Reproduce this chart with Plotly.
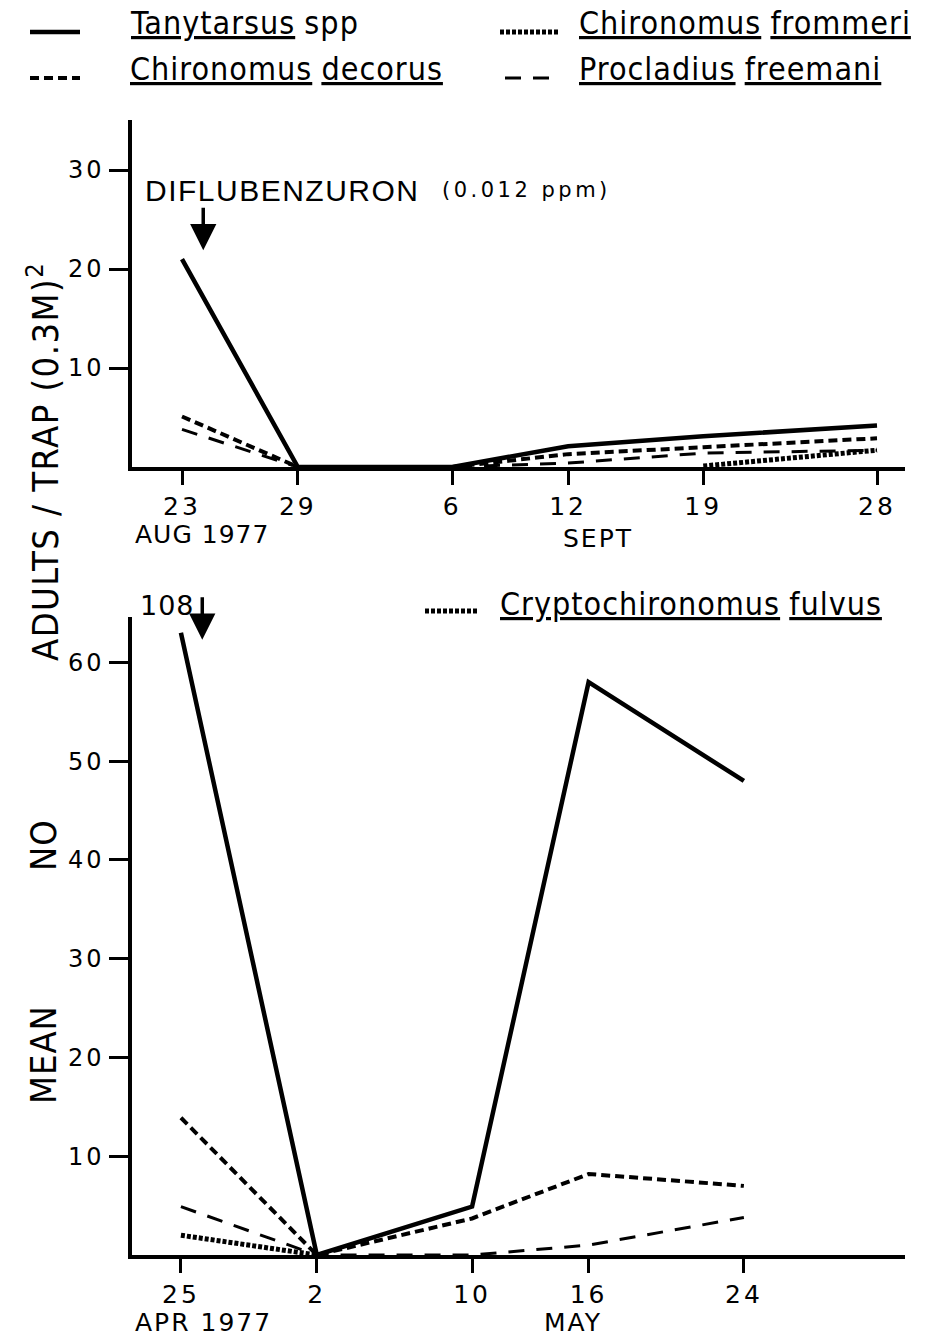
import plotly.graph_objects as go

# ---------------- data ----------------
# Top panel: Aug-Sept 1977, x = days after 23 Aug
aug_days = [0, 6, 14, 20, 27, 36]
aug_ticktext = ["23", "29", "6", "12", "19", "28"]
tany_aug = [21.0, 0, 0, 2.1, 3.1, 4.2]
decorus_aug = [5.1, 0, 0, 1.3, 2.0, 2.9]
procl_aug = [3.8, 0, 0, 0.4, 1.4, 1.7]
frommeri_days = [27, 36]
frommeri_aug = [0.1, 1.7]

# Bottom panel: Apr-May 1977, x = days after 25 Apr
apr_days = [0, 7, 15, 21, 29]
apr_ticktext = ["25", "2", "10", "16", "24"]
tany_apr = [63.0, 0, 4.9, 58.0, 48.0]   # first value off-scale (108)
decorus_apr = [13.9, 0, 3.7, 8.2, 7.0]
procl_apr = [4.9, 0, 0, 1.0, 3.8]
crypto_days = [0, 7]
crypto_apr = [2.0, 0]

top_yticks = [10, 20, 30]
bot_yticks = [10, 20, 30, 40, 50, 60]

NARROW = "DejaVu Sans Condensed, Liberation Sans Narrow, Arial Narrow, sans-serif"
TICKF = "DejaVu Sans, Verdana, sans-serif"

styles = {
    "tany": dict(color="black", width=4.5, dash="solid"),
    "decorus": dict(color="black", width=4, dash="9px,5px"),
    "procl": dict(color="black", width=3, dash="16px,12px"),
    "frommeri": dict(color="black", width=5, dash="4px,2px"),
    "crypto": dict(color="black", width=5, dash="4px,2px"),
}

fig = go.Figure()

def add(x, y, key, xa, ya):
    fig.add_trace(go.Scatter(x=x, y=y, mode="lines", line=styles[key],
                             xaxis=xa, yaxis=ya, showlegend=False, hoverinfo="skip"))

add(aug_days, procl_aug, "procl", "x", "y")
add(aug_days, decorus_aug, "decorus", "x", "y")
add(frommeri_days, frommeri_aug, "frommeri", "x", "y")
add(aug_days, tany_aug, "tany", "x", "y")

add(apr_days, procl_apr, "procl", "x2", "y2")
add(apr_days, decorus_apr, "decorus", "x2", "y2")
add(crypto_days, crypto_apr, "crypto", "x2", "y2")
add(apr_days, tany_apr, "tany", "x2", "y2")

W, H = 925, 1336
def px(x):
    return x / W
def py(y):
    return 1 - y / H

def sp(t, ls):
    return '<span style="letter-spacing:%spx">%s</span>' % (ls, t)

axis_common = dict(showline=True, linecolor="black", linewidth=3.5, ticks="outside",
                   tickwidth=3, tickcolor="black", showgrid=False, zeroline=False)
xfont = dict(family=TICKF, size=25, color="black")
yfont = dict(family=TICKF, size=24, color="black")

fig.update_layout(
    width=W, height=H, margin=dict(l=0, r=0, t=0, b=0),
    paper_bgcolor="white", plot_bgcolor="white",
    xaxis=dict(domain=[px(132), px(905)], range=[-2.59, 37.45], anchor="y",
               tickmode="array", tickvals=aug_days, ticktext=[sp(t, 3) for t in aug_ticktext],
               ticklen=14, tickfont=xfont, **axis_common),
    yaxis=dict(domain=[py(467), py(120)], range=[0, 35.05], anchor="x",
               tickmode="array", tickvals=top_yticks, ticktext=[sp(str(v), 3) for v in top_yticks],
               ticklen=19, tickfont=yfont, **axis_common),
    xaxis2=dict(domain=[px(132), px(905)], range=[-2.52, 37.3], anchor="y2",
                tickmode="array", tickvals=apr_days, ticktext=[sp(t, 3) for t in apr_ticktext],
                ticklen=14, tickfont=xfont, **axis_common),
    yaxis2=dict(domain=[py(1255), py(617)], range=[0, 64.6], anchor="x2",
                tickmode="array", tickvals=bot_yticks, ticktext=[sp(str(v), 3) for v in bot_yticks],
                ticklen=19, tickfont=yfont, **axis_common),
)

U = ('<span style="text-decoration:underline;text-decoration-thickness:3px;'
     'text-underline-offset:5px;letter-spacing:1px">%s</span>')
P = '<span style="letter-spacing:1px">%s</span>'

def ann(text, x, y, size=30, fam=NARROW, xanchor="left", **kw):
    fig.add_annotation(text=text, x=px(x), y=py(y), xref="paper", yref="paper",
                       showarrow=False, xanchor=xanchor, yanchor="middle",
                       font=dict(family=fam, size=size, color="black"), **kw)

def swatch(x0, x1, y, key):
    st = styles[key]
    fig.add_shape(type="line", xref="paper", yref="paper", x0=px(x0), x1=px(x1),
                  y0=py(y), y1=py(y), line=dict(color="black", width=st["width"], dash=st["dash"]))

LEG = 32
# legend
swatch(30, 80, 32, "tany")
ann(U % "Tanytarsus" + " " + P % "spp", 128, 23, size=LEG)
swatch(500, 560, 32, "frommeri")
ann(U % "Chironomus" + " " + U % "frommeri", 577, 23, size=LEG)
swatch(30, 80, 78, "decorus")
ann(U % "Chironomus" + " " + U % "decorus", 128, 69, size=LEG)
swatch(505, 560, 78, "procl")
ann(U % "Procladius" + " " + U % "freemani", 577, 69, size=LEG)
swatch(425, 478, 611, "crypto")
ann(U % "Cryptochironomus" + " " + U % "fulvus", 498, 604, size=LEG)

# in-chart text
ann(sp("DIFLUBENZURON", 1.5), 143, 190, size=30, fam="Liberation Sans, Arial, sans-serif")
ann(sp("(0.012 ppm)", 3.5), 440, 190, size=21, fam=TICKF)
ann(sp("108", 1), 138, 605, size=27, fam=TICKF)
fig.add_annotation(x=1.1, y=21.9, xref="x", yref="y", ax=0, ay=-44, showarrow=True,
                   arrowhead=2, arrowsize=1.5, arrowwidth=3.5, arrowcolor="black", text="")
fig.add_annotation(x=1.1, y=62.3, xref="x2", yref="y2", ax=0, ay=-44, showarrow=True,
                   arrowhead=2, arrowsize=1.5, arrowwidth=3.5, arrowcolor="black", text="")

# month labels
ann(sp("AUG 1977", 1), 133, 534, size=25, fam=TICKF)
ann(sp("SEPT", 2), 598, 539, size=25, fam=TICKF, xanchor="center")
ann(sp("APR 1977", 2), 133, 1322, size=25, fam=TICKF)
ann(sp("MAY", 2), 573, 1322, size=25, fam=TICKF, xanchor="center")

# y title (rotated pieces)
def ytitle(text, y):
    fig.add_annotation(text=text, x=px(43), y=py(y), xref="paper", yref="paper",
                       showarrow=False, textangle=-90, xanchor="center", yanchor="middle",
                       font=dict(family=NARROW, size=36, color="black"))

ytitle(sp("MEAN", 1), 1055)
ytitle(sp("NO", 1), 845)
ytitle(sp("ADULTS / TRAP (0.3M)", 1.5) + "<sup>2</sup>", 462)

fig.write_html("out.html", config={"displayModeBar": False},
               post_script="document.body.style.margin='0px';")
